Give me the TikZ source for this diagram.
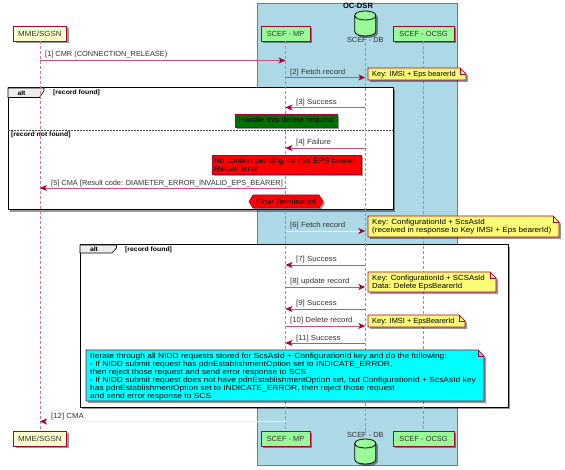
\documentclass[tikz,border=0pt]{standalone}
\usepackage{fontspec}
\setmainfont{Liberation Sans}
\usetikzlibrary{shadows,arrows.meta}
\definecolor{umlred}{HTML}{A80036}
\definecolor{umlline}{HTML}{CC4F78}
\definecolor{lifepink}{HTML}{DB7398}
\definecolor{actorbg}{HTML}{FEFECE}
\definecolor{compbg}{HTML}{98FB98}
\definecolor{bandbg}{HTML}{ADD8E6}
\definecolor{notebg}{HTML}{FBFB77}
\definecolor{inktxt}{HTML}{333333}
\definecolor{cyanbg}{HTML}{00FFFF}
\definecolor{handlebg}{HTML}{007000}
\definecolor{redbg}{HTML}{FF0000}
\newcommand{\wider}[1]{\addfontfeature{FakeStretch=#1}}
\tikzset{
  softshadow/.style={drop shadow={shadow xshift=2pt,shadow yshift=-2pt,fill=black,opacity=.4}},
  lbl/.style={font=\fontsize{7.4}{8}\selectfont\wider{1.06},text=inktxt,inner sep=0pt,anchor=west},
  lblplain/.style={font=\fontsize{7.4}{8}\selectfont,text=inktxt,inner sep=0pt,anchor=west},
  headbox/.style={draw=umlred,line width=.9pt,inner sep=0pt,minimum height=15pt,softshadow,font=\fontsize{7.4}{8}\selectfont,text=inktxt},
  actorbox/.style={headbox,fill=actorbg,minimum width=53pt},
  mpbox/.style={headbox,fill=compbg,minimum width=49pt},
  ocsgbox/.style={headbox,fill=compbg,minimum width=61pt},
  dbbody/.style={draw=black,line width=.8pt,fill=compbg,softshadow},
  lifeline/.style={draw=lifepink,dash pattern=on 3pt off 2pt,line width=.55pt},
  msg/.style={draw=umlline,line width=.8pt,-{Stealth[length=7pt,width=6pt,inset=2pt,umlred]}},
  faintmsg/.style={draw=umlline!12,line width=.5pt,-{Stealth[length=7pt,width=6pt,inset=2pt,umlred]}},
  notetext/.style={font=\fontsize{7.4}{7.9}\selectfont,text=black,inner sep=0pt,anchor=north west,align=left},
  notepath/.style={draw=umlred,line width=.7pt,softshadow},
  framebox/.style={draw=black,line width=1pt,fill=white,softshadow},
  tab/.style={draw=black,line width=.6pt,fill=black!7},
  framelbl/.style={font=\bfseries\fontsize{6.4}{7}\selectfont\wider{1.07},text=black,inner sep=0pt},
  sep/.style={draw=black!70,line width=.5pt,dash pattern=on 1.5pt off 1.5pt},
  flagtext/.style={font=\fontsize{7.4}{8}\selectfont\wider{1.1},text=black,inner sep=0pt},
}
% note with a folded corner: name, left, top, right, bottom, fill, stretch, text
\newcommand{\umlnote}[8]{%
  \draw[notepath,fill=#6] (#2,#3) -- (#4-6,#3) -- (#4,#3+6) -- (#4,#5) -- (#2,#5) -- cycle;
  \draw[draw=umlred,line width=.5pt] (#4-6,#3) -- (#4-6,#3+6) -- (#4,#3+6);
  \node[notetext,font=\fontsize{7.4}{7.9}\selectfont\wider{#7}] (#1) at (#2+4,#3+3) {#8};
}
% database drum: centre x, top y
\newcommand{\umldrum}[2]{%
  \draw[dbbody] (#1-10.5,#2+4.5) .. controls (#1-10.5,#2-1.5) and (#1+10.5,#2-1.5) .. (#1+10.5,#2+4.5)
     -- (#1+10.5,#2+20.5) .. controls (#1+10.5,#2+26.5) and (#1-10.5,#2+26.5) .. (#1-10.5,#2+20.5) -- cycle;
  \draw[draw=black,line width=.8pt] (#1-10.5,#2+4.5) .. controls (#1-10.5,#2+10.5) and (#1+10.5,#2+10.5) .. (#1+10.5,#2+4.5);
}
\begin{document}
\begin{tikzpicture}[x=1pt,y=-1pt]
\useasboundingbox (0,0) rectangle (565,470);
\fill[white] (0,0) rectangle (565,470);
% band
\draw[draw=umlline,line width=.7pt,fill=bandbg] (257.5,3) rectangle (457.5,465);
\node[font=\bfseries\fontsize{7.6}{8}\selectfont,text=black,inner sep=0pt] (band) at (358,6) {OC-DSR};
% frames
\draw[framebox] (8,88) rectangle (393,210);
\draw[framebox] (80,245) rectangle (508,407);
\draw[tab] (8,88) -- (44,88) -- (44,91) -- (39.5,97.5) -- (8,97.5) -- cycle;
\node[framelbl] (altA) at (21.5,93) {alt};
\node[framelbl,anchor=west] (guardA) at (53,93) {[record found]};
\draw[sep] (8,130) -- (393,130);
\node[framelbl,anchor=west] (guardB) at (11,134.5) {[record not found]};
\draw[tab] (80,245) -- (116.5,245) -- (116.5,248) -- (112,253) -- (80,253) -- cycle;
\node[framelbl] (altB) at (94,249.5) {alt};
\node[framelbl,anchor=west] (guardC) at (125,249.5) {[record found]};
% participants
\node[actorbox] (mmeT) at (40,33.5) {\wider{1.08}MME/SGSN};
\node[actorbox] (mmeB) at (40,438.5) {\wider{1.08}MME/SGSN};
\node[mpbox] (mpT) at (285.5,33.5) {SCEF - MP};
\node[mpbox] (mpB) at (285.5,438.5) {SCEF - MP};
\node[ocsgbox] (ocT) at (423.5,33.5) {SCEF - OCSG};
\node[ocsgbox] (ocB) at (423.5,438.5) {SCEF - OCSG};
\umldrum{365.3}{11}
\node[lblplain,anchor=center] (dbTl) at (365.3,40) {SCEF - DB};
\node[lblplain,anchor=center] (dbBl) at (365.3,435) {SCEF - DB};
\umldrum{365.3}{439}
% lifelines
\draw[lifeline] (mmeT) -- (mmeB);
\draw[lifeline] (mpT) -- (mpB);
\draw[lifeline] (dbTl) -- (dbBl);
\draw[lifeline] (ocT) -- (ocB);
% messages
\draw[msg] (mmeT |- 0,60.5) -- (mpT |- 0,60.5);
\node[lblplain] (m1) at (45,55) {[1] CMR (CONNECTION\_RELEASE)};
\draw[msg] (mpT |- 0,77.5) -- (dbTl |- 0,77.5);
\node[lbl] (m2) at (290,73) {[2] Fetch record};
\draw[msg] (dbTl |- 0,107.5) -- (mpT |- 0,107.5);
\node[lbl] (m3) at (296,103) {[3] Success};
\draw[msg] (dbTl |- 0,148) -- (mpT |- 0,148);
\node[lbl] (m4) at (296,143) {[4] Failure};
\draw[msg] (mpT |- 0,188) -- (mmeT |- 0,188);
\node[lblplain] (m5) at (51,184) {[5] CMA [Result code: DIAMETER\_ERROR\_INVALID\_EPS\_BEARER]};
\draw[faintmsg] (mpT |- 0,231) -- (dbTl |- 0,231);
\node[lbl] (m6) at (290,226) {[6] Fetch record};
\draw[msg] (dbTl |- 0,265) -- (mpT |- 0,265);
\node[lbl] (m7) at (296,260) {[7] Success};
\draw[msg] (mpT |- 0,287) -- (dbTl |- 0,287);
\node[lbl] (m8) at (290,282) {[8] update record};
\draw[msg] (dbTl |- 0,309) -- (mpT |- 0,309);
\node[lbl] (m9) at (296,304) {[9] Success};
\draw[msg] (mpT |- 0,326) -- (dbTl |- 0,326);
\node[lbl] (m10) at (290,321) {[10] Delete record};
\draw[msg] (dbTl |- 0,343) -- (mpT |- 0,343);
\node[lbl] (m11) at (296,339) {[11] Success};
\draw[faintmsg] (mpT |- 0,421.5) -- (mmeT |- 0,421.5);
\node[lbl] (m12) at (51,417) {[12] CMA};
% notes
\node[draw=umlred,line width=.6pt,fill=handlebg,softshadow,flagtext,minimum width=102pt,minimum height=13pt] (handle) at (286,120.5) {Handle this delete request};
\node[draw=umlred,line width=.6pt,fill=redbg,softshadow,font=\fontsize{7.4}{7.9}\selectfont\wider{1.09},text=black,inner sep=0pt,minimum width=149pt,minimum height=19pt,align=left,text width=145pt] (nocontext) at (286.5,165) {No context pending for this EPS bearer.\\Return error};
\draw[draw=umlred,line width=.6pt,fill=redbg,softshadow] (249,201.5) -- (253,195) -- (319,195) -- (323,201.5) -- (319,208) -- (253,208) -- cycle;
\node[flagtext] (flow) at (286,201.5) {Flow Terminated};
\umlnote{n1}{368}{68}{466}{80}{notebg}{1}{Key: IMSI + Eps bearerId}
\umlnote{n2}{368}{216}{559}{237}{notebg}{1.09}{Key: ConfigurationId + ScsAsId\\(received in response to Key IMSI + Eps bearerId)}
\umlnote{n3}{368}{272}{496}{292}{notebg}{1.06}{Key: ConfigurationId + SCSAsId\\Data: Delete EpsBearerId}
\umlnote{n4}{368}{315}{465}{327}{notebg}{1}{Key: IMSI + EpsBearerId}
\umlnote{n5}{86}{350}{484}{401}{cyanbg}{1.14}{Iterate through all NIDD requests stored for ScsAsId + ConfigurationId key and do the following:\\- If NIDD submit request has pdnEstablishmentOption set to INDICATE\_ERROR,\\then reject those request and send error response to SCS\\- If NIDD submit request does not have pdnEstablishmentOption set, but ConfigurationId + ScsAsId key\\has pdnEstablishmentOption set to INDICATE\_ERROR, then reject those request\\and send error response to SCS}
\end{tikzpicture}
\end{document}
